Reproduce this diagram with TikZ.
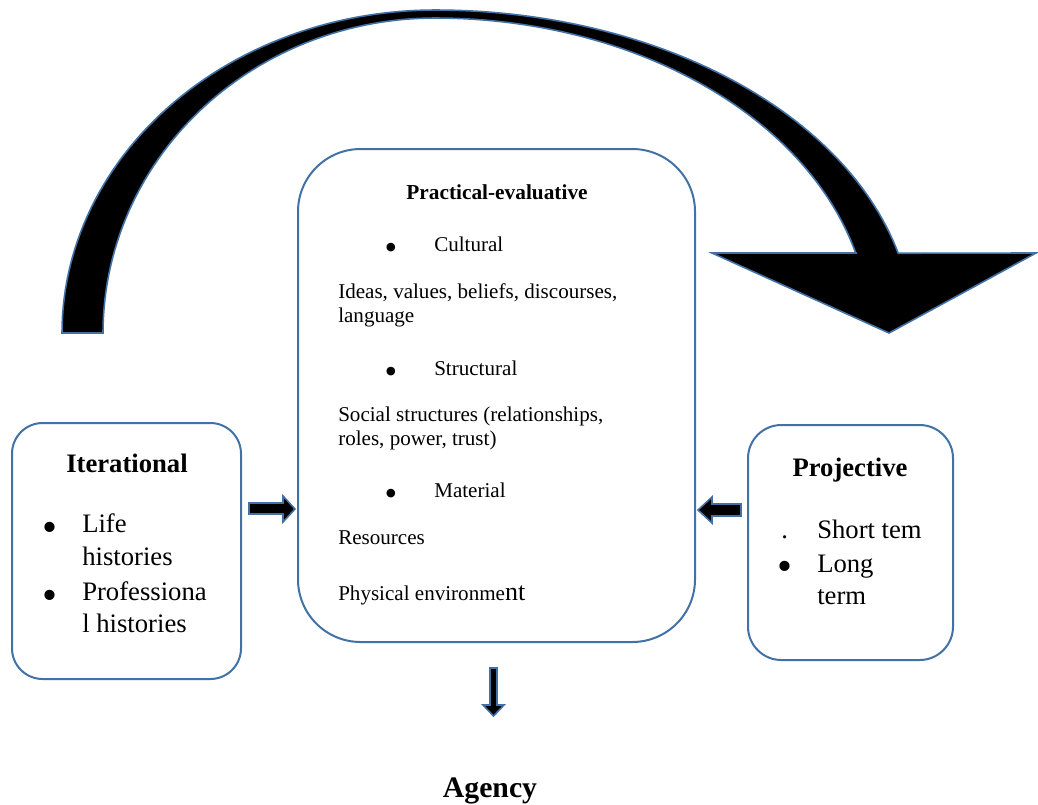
\documentclass[tikz,border=0pt]{standalone}
\usepackage{fontspec}
\setmainfont{Liberation Serif}
\definecolor{edge}{RGB}{65,113,165}
\newcommand{\fsbody}{\fontsize{15.8}{18}\selectfont}
\newcommand{\fsbig}{\fontsize{20}{24}\selectfont}
\begin{document}
\begin{tikzpicture}[x=0.75pt,y=-0.75pt,
  box/.style={draw=edge, line width=1.5pt, fill=white, inner sep=0pt},
  blockarrow/.style={draw=edge, line width=1.2pt, fill=black, line join=miter},
  txt/.style={inner sep=0pt, anchor=base west, font=\fsbody},
  ttl/.style={inner sep=0pt, anchor=base, font=\bfseries\fontsize{16}{18}\selectfont},
  bigtxt/.style={inner sep=0pt, anchor=base west, font=\fsbig},
  bigttl/.style={inner sep=0pt, anchor=base, font=\bfseries\fontsize{20}{24}\selectfont},
  bul/.style={inner sep=0pt, anchor=center, font=\fontsize{27}{27}\selectfont},
  bigbul/.style={inner sep=0pt, anchor=center, font=\fontsize{32}{32}\selectfont},
]
\useasboundingbox (0,0) rectangle (1038,804);

% big curved arrow
\draw[blockarrow]
  plot[domain=180:90, samples=60] ({435+373*cos(\x)},{333-323*sin(\x)})
  -- plot[domain=90:14.3, samples=60] ({435+478*cos(\x)},{333-323*sin(\x)})
  -- (1036,253) -- (889,333) -- (712,253) -- (857,253)
  -- plot[domain=14.7:90, samples=60] ({435+435*cos(\x)},{333-315*sin(\x)})
  -- plot[domain=90:180, samples=60] ({435+332*cos(\x)},{333-315*sin(\x)})
  -- cycle;

% boxes
\node[box, rounded corners=47pt, minimum width=297.75pt, minimum height=369.75pt] (pebox) at (496.5,395.5) {};
\node[box, rounded corners=23pt, minimum width=171.75pt, minimum height=192pt] (itbox) at (126.5,551) {};
\node[box, rounded corners=25pt, minimum width=153.75pt, minimum height=176.25pt] (prbox) at (850.5,542.5) {};

% small block arrows
\draw[blockarrow] (249,503) -- (283,503) -- (283,496) -- (295,509) -- (283,522) -- (283,514) -- (249,514) -- cycle;
\draw[blockarrow] (741,504) -- (712,504) -- (712,497) -- (698,510) -- (712,523) -- (712,516) -- (741,516) -- cycle;
\draw[blockarrow] (490,668) -- (497,668) -- (497,705) -- (504,705) -- (493.5,716) -- (483,705) -- (490,705) -- cycle;

% centre text
\node[ttl] (pe) at (497,199) {Practical-evaluative};
\node[bul] (b1) at (391,251) {•};
\node[txt] (cul) at (434,251) {Cultural};
\node[txt] (ideas) at (338,298) {Ideas, values, beliefs, discourses,};
\node[txt] (lang) at (338,322) {language};
\node[bul] (b2) at (391,375) {•};
\node[txt] (str) at (434,375) {Structural};
\node[txt] (soc) at (338,421) {Social structures (relationships,};
\node[txt] (roles) at (338,445) {roles, power, trust)};
\node[bul] (b3) at (391,497) {•};
\node[txt] (mat) at (434,497) {Material};
\node[txt] (res) at (338,544) {Resources};
\node[txt] (phys) at (338,600) {Physical environme{\fontsize{19.5}{20}\selectfont nt}};

% left text
\node[bigttl] (it) at (127,472) {Iterational};
\node[bigbul] (lb1) at (50,532) {•};
\node[bigtxt] (life) at (82,532) {Life};
\node[bigtxt] (hist) at (82,565) {histories};
\node[bigbul] (lb2) at (50,600) {•};
\node[bigtxt] (prof) at (82,600) {Professiona};
\node[bigtxt] (lhist) at (82,632) {l histories};

% right text
\node[bigttl] (pr) at (850,476) {Projective};
\node[bigtxt] (dot) at (781,538) {.};
\node[bigtxt] (short) at (817,538) {Short tem};
\node[bigbul] (rb) at (785,571) {•};
\node[bigtxt] (long) at (817,572) {Long};
\node[bigtxt] (term) at (817,604) {term};

% agency
\node[inner sep=0pt, anchor=base, font=\bfseries\fontsize{22.3}{26}\selectfont] (ag) at (490,797) {Agency};
\end{tikzpicture}
\end{document}
